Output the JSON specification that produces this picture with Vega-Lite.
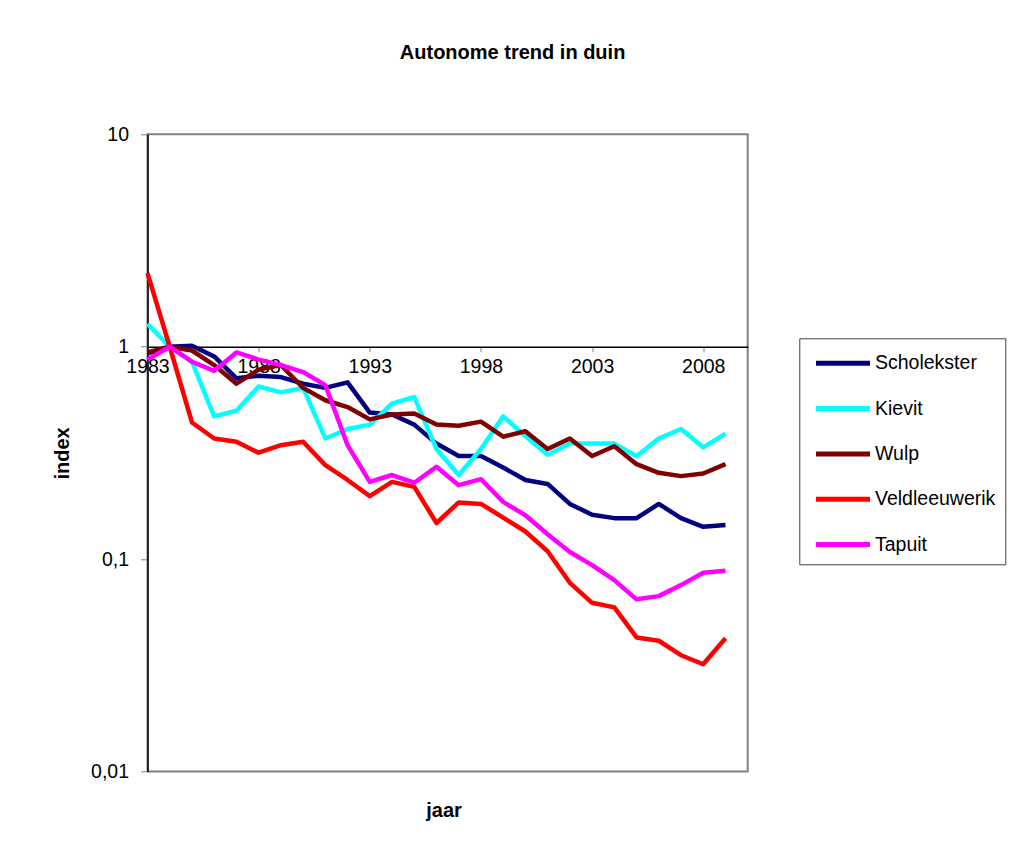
{
  "$schema": "https://vega.github.io/schema/vega-lite/v6.json",
  "width": 600.2,
  "height": 637.3,
  "autosize": {"type": "none"},
  "padding": {"left": 147.5, "top": 134.3, "right": 262.3, "bottom": 87.4},
  "background": "white",
  "config": {
    "font": "Liberation Sans",
    "view": {"stroke": "#808080", "strokeWidth": 2}
  },
  "title": {
    "text": "Autonome trend in duin",
    "fontSize": 20,
    "fontWeight": "bold",
    "font": "Liberation Sans",
    "color": "black",
    "anchor": "middle",
    "dx": 65,
    "offset": 61
  },
  "data": {
    "values": [
      {"jaar": 1983, "Scholekster": 0.93, "Kievit": 1.28, "Wulp": 0.94, "Veldleeuwerik": 2.22, "Tapuit": 0.87},
      {"jaar": 1984, "Scholekster": 1.0, "Kievit": 1.0, "Wulp": 1.0, "Veldleeuwerik": 1.0, "Tapuit": 1.0},
      {"jaar": 1985, "Scholekster": 1.01, "Kievit": 0.85, "Wulp": 0.96, "Veldleeuwerik": 0.44, "Tapuit": 0.85},
      {"jaar": 1986, "Scholekster": 0.9, "Kievit": 0.47, "Wulp": 0.82, "Veldleeuwerik": 0.37, "Tapuit": 0.77},
      {"jaar": 1987, "Scholekster": 0.71, "Kievit": 0.5, "Wulp": 0.67, "Veldleeuwerik": 0.357, "Tapuit": 0.94},
      {"jaar": 1988, "Scholekster": 0.73, "Kievit": 0.65, "Wulp": 0.78, "Veldleeuwerik": 0.317, "Tapuit": 0.87},
      {"jaar": 1989, "Scholekster": 0.72, "Kievit": 0.61, "Wulp": 0.82, "Veldleeuwerik": 0.344, "Tapuit": 0.82},
      {"jaar": 1990, "Scholekster": 0.67, "Kievit": 0.64, "Wulp": 0.64, "Veldleeuwerik": 0.357, "Tapuit": 0.76},
      {"jaar": 1991, "Scholekster": 0.64, "Kievit": 0.37, "Wulp": 0.56, "Veldleeuwerik": 0.277, "Tapuit": 0.66},
      {"jaar": 1992, "Scholekster": 0.68, "Kievit": 0.41, "Wulp": 0.52, "Veldleeuwerik": 0.236, "Tapuit": 0.344},
      {"jaar": 1993, "Scholekster": 0.49, "Kievit": 0.43, "Wulp": 0.455, "Veldleeuwerik": 0.198, "Tapuit": 0.231},
      {"jaar": 1994, "Scholekster": 0.48, "Kievit": 0.54, "Wulp": 0.48, "Veldleeuwerik": 0.231, "Tapuit": 0.249},
      {"jaar": 1995, "Scholekster": 0.43, "Kievit": 0.58, "Wulp": 0.485, "Veldleeuwerik": 0.219, "Tapuit": 0.229},
      {"jaar": 1996, "Scholekster": 0.35, "Kievit": 0.33, "Wulp": 0.43, "Veldleeuwerik": 0.148, "Tapuit": 0.272},
      {"jaar": 1997, "Scholekster": 0.306, "Kievit": 0.249, "Wulp": 0.425, "Veldleeuwerik": 0.185, "Tapuit": 0.223},
      {"jaar": 1998, "Scholekster": 0.306, "Kievit": 0.33, "Wulp": 0.444, "Veldleeuwerik": 0.182, "Tapuit": 0.238},
      {"jaar": 1999, "Scholekster": 0.27, "Kievit": 0.47, "Wulp": 0.377, "Veldleeuwerik": 0.157, "Tapuit": 0.186},
      {"jaar": 2000, "Scholekster": 0.236, "Kievit": 0.38, "Wulp": 0.4, "Veldleeuwerik": 0.135, "Tapuit": 0.161},
      {"jaar": 2001, "Scholekster": 0.226, "Kievit": 0.31, "Wulp": 0.33, "Veldleeuwerik": 0.109, "Tapuit": 0.131},
      {"jaar": 2002, "Scholekster": 0.182, "Kievit": 0.35, "Wulp": 0.37, "Veldleeuwerik": 0.0774, "Tapuit": 0.108},
      {"jaar": 2003, "Scholekster": 0.162, "Kievit": 0.35, "Wulp": 0.306, "Veldleeuwerik": 0.0623, "Tapuit": 0.0938},
      {"jaar": 2004, "Scholekster": 0.156, "Kievit": 0.35, "Wulp": 0.34, "Veldleeuwerik": 0.0593, "Tapuit": 0.0797},
      {"jaar": 2005, "Scholekster": 0.156, "Kievit": 0.305, "Wulp": 0.28, "Veldleeuwerik": 0.0428, "Tapuit": 0.0647},
      {"jaar": 2006, "Scholekster": 0.182, "Kievit": 0.37, "Wulp": 0.255, "Veldleeuwerik": 0.0413, "Tapuit": 0.067},
      {"jaar": 2007, "Scholekster": 0.156, "Kievit": 0.41, "Wulp": 0.246, "Veldleeuwerik": 0.0353, "Tapuit": 0.0755},
      {"jaar": 2008, "Scholekster": 0.142, "Kievit": 0.336, "Wulp": 0.253, "Veldleeuwerik": 0.032, "Tapuit": 0.0863},
      {"jaar": 2009, "Scholekster": 0.145, "Kievit": 0.39, "Wulp": 0.28, "Veldleeuwerik": 0.0424, "Tapuit": 0.0882}
    ]
  },
  "transform": [
    {"fold": ["Scholekster", "Kievit", "Wulp", "Veldleeuwerik", "Tapuit"], "as": ["soort", "index"]}
  ],
  "mark": {"type": "line", "strokeWidth": 4.5, "strokeJoin": "round"},
  "encoding": {
    "x": {
      "field": "jaar",
      "type": "quantitative",
      "scale": {"domain": [1983, 2010], "nice": false, "zero": false},
      "axis": {
        "orient": "bottom",
        "offset": -424.9,
        "values": [1983, 1988, 1993, 1998, 2003, 2008],
        "format": "d",
        "title": "jaar",
        "titleFontSize": 20,
        "titleFontWeight": "bold",
        "titleColor": "black",
        "titleX": 296,
        "titleY": 464,
        "titleBaseline": "middle",
        "titleAnchor": "middle",
        "labelFontSize": 19.5,
        "labelColor": "black",
        "labelPadding": 6,
        "labelFlush": false,
        "labelOverlap": false,
        "tickSize": 5,
        "tickColor": "#808080",
        "domainColor": "black",
        "domainWidth": 1.5,
        "grid": false
      }
    },
    "y": {
      "field": "index",
      "type": "quantitative",
      "scale": {"type": "log", "domain": [0.01, 10], "nice": false},
      "axis": {
        "values": [0.01, 0.1, 1, 10],
        "labelExpr": "replace(toString(datum.value), '.', ',')",
        "title": "index",
        "titleFontSize": 20,
        "titleFontWeight": "bold",
        "titleColor": "black",
        "titlePadding": 18,
        "labelFontSize": 19.5,
        "labelColor": "black",
        "labelPadding": 12,
        "tickSize": 7,
        "tickColor": "#808080",
        "domainColor": "black",
        "domainWidth": 1.5,
        "grid": false
      }
    },
    "color": {
      "field": "soort",
      "type": "nominal",
      "scale": {
        "domain": ["Scholekster", "Kievit", "Wulp", "Veldleeuwerik", "Tapuit"],
        "range": ["#000080", "#00FFFF", "#800000", "#FF0000", "#FF00FF"]
      },
      "legend": {
        "orient": "none",
        "legendX": 651.8,
        "legendY": 204,
        "title": null,
        "symbolType": "M-0.615,0H3.385",
        "symbolSize": 729,
        "symbolStrokeWidth": 5,
        "symbolFillColor": "transparent",
        "labelFontSize": 19.5,
        "labelColor": "black",
        "labelOffset": 34.7,
        "labelLimit": 300,
        "strokeColor": "#404040",
        "fillColor": "white",
        "padding": 9,
        "rowPadding": 19.3
      }
    }
  }
}
